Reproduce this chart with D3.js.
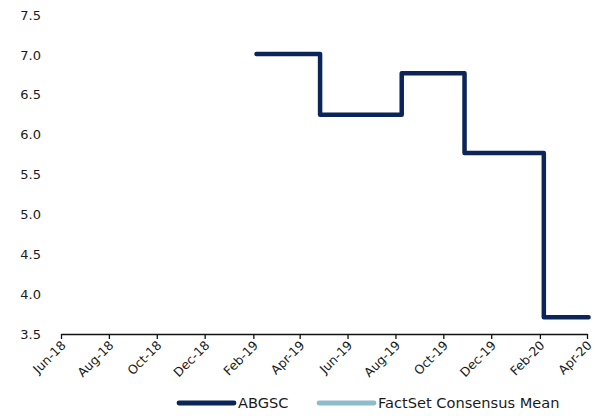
<!DOCTYPE html>
<html>
<head>
<meta charset="utf-8">
<script src="https://cdn.jsdelivr.net/npm/d3@7"></script>
<style>
  html, body { margin: 0; padding: 0; background: #fff; }
  svg { display: block; font-family: "DejaVu Sans", sans-serif; }
</style>
</head>
<body>
<svg id="chart" width="595" height="416"></svg>
<script>
// Target price history (step changes) and the consensus series
const changeDates = ["2019-02-05", "2019-04-27", "2019-08-09", "2019-10-28", "2020-02-06", "2020-04-03"];
const abgscValues = [7.01, 6.25, 6.77, 5.77, 3.71, 3.71];
const consensusDates = [];
const consensusValues = [];
const xTickDates = ["2018-06-01", "2018-08-01", "2018-10-01", "2018-12-01", "2019-02-01", "2019-04-01",
                    "2019-06-01", "2019-08-01", "2019-10-01", "2019-12-01", "2020-02-01", "2020-04-01"];
const yTicks = [3.5, 4.0, 4.5, 5.0, 5.5, 6.0, 6.5, 7.0, 7.5];
const seriesNames = ["ABGSC", "FactSet Consensus Mean"];
const seriesColors = ["#0b2559", "#8dbccb"];

const parse = d3.utcParse("%Y-%m-%d");
const svg = d3.select("#chart");

const x = d3.scaleUtc()
  .domain([parse(xTickDates[0]), parse(xTickDates[xTickDates.length - 1])])
  .range([61, 587]);
const y = d3.scaleLinear().domain([3.5, 7.5]).range([334, 15]);

// y axis: labels only
const yAxis = svg.append("g")
  .attr("transform", "translate(43,0)")
  .call(d3.axisLeft(y).tickValues(yTicks).tickFormat(d3.format(".1f")).tickSize(0).tickPadding(2));
yAxis.select(".domain").remove();
yAxis.selectAll("text").attr("font-size", 13).attr("fill", "#1a1a1a").attr("font-family", "DejaVu Sans, sans-serif");

// x axis with rotated month labels
const xAxis = svg.append("g")
  .attr("transform", "translate(0,334)")
  .call(d3.axisBottom(x)
    .tickValues(xTickDates.map(parse))
    .tickFormat(d3.utcFormat("%b-%y"))
    .tickSize(5).tickSizeOuter(0));
xAxis.select(".domain").attr("stroke", "#111").attr("stroke-width", 1.5);
xAxis.selectAll(".tick line").attr("stroke", "#111").attr("stroke-width", 1.3);
xAxis.selectAll("text")
  .attr("font-size", 12.5)
  .attr("fill", "#1a1a1a")
  .attr("font-family", "DejaVu Sans, sans-serif")
  .attr("text-anchor", "end")
  .attr("dy", "0.35em")
  .attr("transform", "translate(2,9) rotate(-45)")
  .attr("y", 0).attr("x", 0);

// Series lines
const line = d3.line()
  .x(d => x(d.date))
  .y(d => y(d.value))
  .curve(d3.curveStepAfter);

const abgsc = changeDates.map((d, i) => ({ date: parse(d), value: abgscValues[i] }));
const consensus = consensusDates.map((d, i) => ({ date: parse(d), value: consensusValues[i] }));

svg.append("path")
  .datum(consensus)
  .attr("fill", "none")
  .attr("stroke", seriesColors[1])
  .attr("stroke-width", 4.5)
  .attr("d", line);

svg.append("path")
  .datum(abgsc)
  .attr("fill", "none")
  .attr("stroke", seriesColors[0])
  .attr("stroke-width", 4.5)
  .attr("stroke-linejoin", "round")
  .attr("stroke-linecap", "round")
  .attr("d", line);

// Legend
const legendX = [179, 319];
const legend = svg.append("g").selectAll("g")
  .data(seriesNames)
  .join("g")
  .attr("transform", (d, i) => `translate(${legendX[i]},403)`);
legend.append("line")
  .attr("x1", 0).attr("x2", 55)
  .attr("stroke", (d, i) => seriesColors[i])
  .attr("stroke-width", 4.8)
  .attr("stroke-linecap", "round");
legend.append("text")
  .attr("x", 59).attr("dy", "0.36em")
  .attr("font-size", 14.6)
  .attr("fill", "#1a1a1a")
  .text(d => d);
</script>
</body>
</html>
